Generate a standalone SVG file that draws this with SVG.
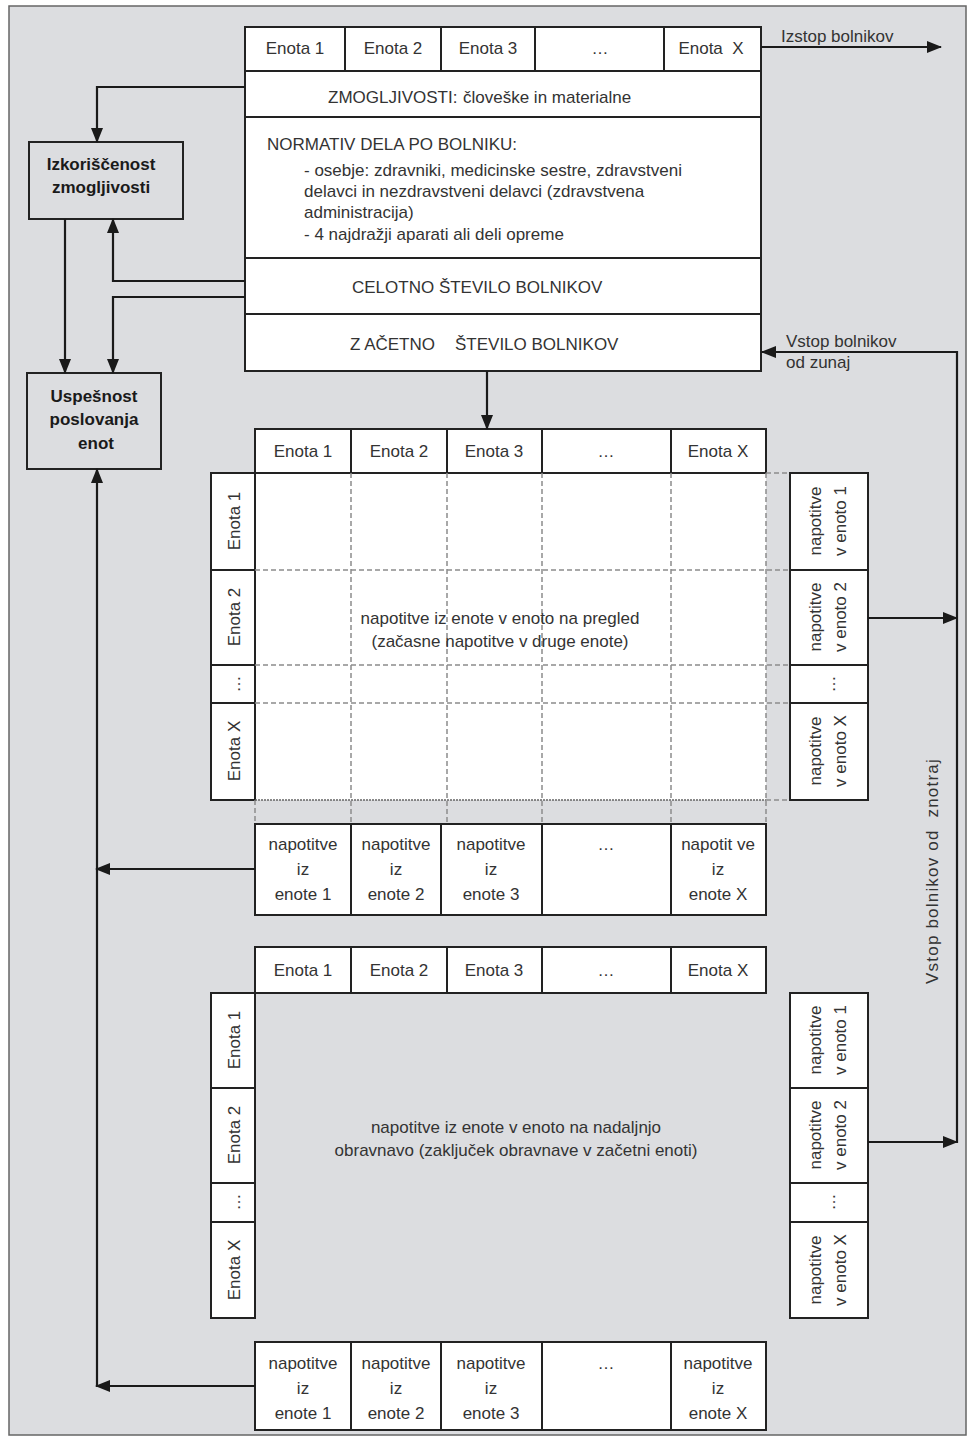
<svg xmlns="http://www.w3.org/2000/svg" width="968" height="1438" viewBox="0 0 968 1438">
<defs>
<marker id="ah" markerUnits="userSpaceOnUse" markerWidth="15" markerHeight="12" refX="14" refY="6" orient="auto" viewBox="0 0 15 12"><path d="M0,0 L15,6 L0,12 z" fill="#1a1a1a"/></marker>
</defs>
<style>
.t{font-family:"Liberation Sans",Arial,sans-serif;font-size:17px;fill:#333;}
.c{text-anchor:middle}
.b{font-weight:bold;fill:#1a1a1a}
.pre{white-space:pre}
.cell{fill:#fff;stroke:#222;stroke-width:2}
.box{fill:#dcdde0;stroke:#222;stroke-width:2}
.dash{stroke:#8c8c8c;stroke-width:1.5;stroke-dasharray:5 3;fill:none}
.dot{stroke:#666;stroke-width:1.5;stroke-dasharray:2 1;fill:none}
.conn{fill:none;stroke:#1a1a1a;stroke-width:2.2}
</style>
<rect x="9" y="6" width="957" height="1429" fill="#dcdde0" stroke="#666" stroke-width="1.5"/>

<g id="capacity-table">
<rect class="cell" x="245" y="27" width="100" height="44"/>
<rect class="cell" x="345" y="27" width="96" height="44"/>
<rect class="cell" x="441" y="27" width="94" height="44"/>
<rect class="cell" x="535" y="27" width="129" height="44"/>
<rect class="cell" x="664" y="27" width="97" height="44"/>
<rect class="cell" x="245" y="71" width="516" height="46"/>
<rect class="cell" x="245" y="117" width="516" height="141"/>
<rect class="cell" x="245" y="258" width="516" height="56"/>
<rect class="cell" x="245" y="314" width="516" height="57"/>
<text class="t c" x="295" y="54">Enota 1</text>
<text class="t c" x="393" y="54">Enota 2</text>
<text class="t c" x="488" y="54">Enota 3</text>
<text class="t c" x="600" y="54">…</text>
<text class="t c pre" x="711" y="54">Enota  X</text>
<text class="t" x="328" y="103">ZMOGLJIVOSTI:</text>
<text class="t" x="463" y="103">človeške in materialne</text>
<text class="t" x="267" y="150">NORMATIV DELA PO BOLNIKU:</text>
<text class="t" x="304" y="176">- osebje: zdravniki, medicinske sestre, zdravstveni</text>
<text class="t" x="304" y="197">delavci in nezdravstveni delavci (zdravstvena</text>
<text class="t" x="304" y="218">administracija)</text>
<text class="t" x="304" y="240">- 4 najdražji aparati ali deli opreme</text>
<text class="t" x="352" y="293">CELOTNO ŠTEVILO BOLNIKOV</text>
<text class="t" x="350" y="350">Z AČETNO</text>
<text class="t" x="455" y="350">ŠTEVILO BOLNIKOV</text>
</g>

<g id="izkoriscenost">
<rect class="box" x="29" y="142" width="154" height="77"/>
<text class="t c b" x="101" y="170">Izkoriščenost</text>
<text class="t c b" x="101" y="193">zmogljivosti</text>
</g>

<g id="uspesnost">
<rect class="box" x="27" y="373" width="134" height="96"/>
<text class="t c b" x="94" y="402">Uspešnost</text>
<text class="t c b" x="94" y="425">poslovanja</text>
<text class="t c b" x="96" y="449">enot</text>
</g>

<g id="matrix-pregled">
<rect x="255" y="473" width="511" height="327" fill="#fff"/>
<rect class="cell" x="255" y="429" width="96" height="44"/>
<rect class="cell" x="351" y="429" width="96" height="44"/>
<rect class="cell" x="447" y="429" width="95" height="44"/>
<rect class="cell" x="542" y="429" width="129" height="44"/>
<rect class="cell" x="671" y="429" width="95" height="44"/>
<text class="t c" x="303" y="457">Enota 1</text>
<text class="t c" x="399" y="457">Enota 2</text>
<text class="t c" x="494" y="457">Enota 3</text>
<text class="t c" x="606" y="457">…</text>
<text class="t c" x="718" y="457">Enota X</text>
<rect class="cell" x="211" y="473" width="44" height="97"/>
<rect class="cell" x="211" y="570" width="44" height="95"/>
<rect class="cell" x="211" y="665" width="44" height="38"/>
<rect class="cell" x="211" y="703" width="44" height="97"/>
<text class="t c" transform="translate(234,521) rotate(-90)" y="6">Enota 1</text>
<text class="t c" transform="translate(234,617) rotate(-90)" y="6">Enota 2</text>
<text class="t c" transform="translate(234,684) rotate(-90)" y="6">…</text>
<text class="t c" transform="translate(234,751) rotate(-90)" y="6">Enota X</text>
<rect class="cell" x="790" y="473" width="78" height="97"/>
<rect class="cell" x="790" y="570" width="78" height="95"/>
<rect class="cell" x="790" y="665" width="78" height="38"/>
<rect class="cell" x="790" y="703" width="78" height="97"/>
<g class="t c" transform="translate(829,521) rotate(-90)"><text y="-8">napotitve</text><text y="17">v enoto 1</text></g>
<g class="t c" transform="translate(829,617) rotate(-90)"><text y="-8">napotitve</text><text y="17">v enoto 2</text></g>
<text class="t c" transform="translate(829,684) rotate(-90)" y="6">…</text>
<g class="t c" transform="translate(829,751) rotate(-90)"><text y="-8">napotitve</text><text y="17">v enoto X</text></g>
<path class="dash" d="M351,473V824M447,473V824M542,473V824M671,473V824M766,473V824M255,800V824M255,570H790M255,665H790M255,703H790M766,473H790M766,800H790"/>
<path class="dot" d="M255,800H766"/>
<text class="t c" x="500" y="624">napotitve iz enote v enoto na pregled</text>
<text class="t c" x="500" y="647">(začasne napotitve v druge enote)</text>
</g>

<g id="napotitve-iz-1">
<rect class="cell" x="255" y="824" width="96" height="91"/>
<rect class="cell" x="351" y="824" width="90" height="91"/>
<rect class="cell" x="441" y="824" width="101" height="91"/>
<rect class="cell" x="542" y="824" width="129" height="91"/>
<rect class="cell" x="671" y="824" width="95" height="91"/>
<g class="t c"><text x="303" y="850">napotitve</text><text x="303" y="875">iz</text><text x="303" y="900">enote 1</text></g>
<g class="t c"><text x="396" y="850">napotitve</text><text x="396" y="875">iz</text><text x="396" y="900">enote 2</text></g>
<g class="t c"><text x="491" y="850">napotitve</text><text x="491" y="875">iz</text><text x="491" y="900">enote 3</text></g>
<text class="t c" x="606" y="850">…</text>
<g class="t c"><text x="718" y="850">napotit ve</text><text x="718" y="875">iz</text><text x="718" y="900">enote X</text></g>
</g>

<g id="matrix-obravnava">
<rect class="cell" x="255" y="947" width="96" height="46"/>
<rect class="cell" x="351" y="947" width="96" height="46"/>
<rect class="cell" x="447" y="947" width="95" height="46"/>
<rect class="cell" x="542" y="947" width="129" height="46"/>
<rect class="cell" x="671" y="947" width="95" height="46"/>
<text class="t c" x="303" y="976">Enota 1</text>
<text class="t c" x="399" y="976">Enota 2</text>
<text class="t c" x="494" y="976">Enota 3</text>
<text class="t c" x="606" y="976">…</text>
<text class="t c" x="718" y="976">Enota X</text>
<rect class="cell" x="211" y="993" width="44" height="95"/>
<rect class="cell" x="211" y="1088" width="44" height="95"/>
<rect class="cell" x="211" y="1183" width="44" height="39"/>
<rect class="cell" x="211" y="1222" width="44" height="96"/>
<text class="t c" transform="translate(234,1040) rotate(-90)" y="6">Enota 1</text>
<text class="t c" transform="translate(234,1135) rotate(-90)" y="6">Enota 2</text>
<text class="t c" transform="translate(234,1202) rotate(-90)" y="6">…</text>
<text class="t c" transform="translate(234,1270) rotate(-90)" y="6">Enota X</text>
<rect class="cell" x="790" y="993" width="78" height="95"/>
<rect class="cell" x="790" y="1088" width="78" height="95"/>
<rect class="cell" x="790" y="1183" width="78" height="39"/>
<rect class="cell" x="790" y="1222" width="78" height="96"/>
<g class="t c" transform="translate(829,1040) rotate(-90)"><text y="-8">napotitve</text><text y="17">v enoto 1</text></g>
<g class="t c" transform="translate(829,1135) rotate(-90)"><text y="-8">napotitve</text><text y="17">v enoto 2</text></g>
<text class="t c" transform="translate(829,1202) rotate(-90)" y="6">…</text>
<g class="t c" transform="translate(829,1270) rotate(-90)"><text y="-8">napotitve</text><text y="17">v enoto X</text></g>
<text class="t c" x="516" y="1133">napotitve iz enote v enoto na nadaljnjo</text>
<text class="t c" x="516" y="1156">obravnavo (zaključek obravnave v začetni enoti)</text>
</g>

<g id="napotitve-iz-2">
<rect class="cell" x="255" y="1342" width="96" height="88"/>
<rect class="cell" x="351" y="1342" width="90" height="88"/>
<rect class="cell" x="441" y="1342" width="101" height="88"/>
<rect class="cell" x="542" y="1342" width="129" height="88"/>
<rect class="cell" x="671" y="1342" width="95" height="88"/>
<g class="t c"><text x="303" y="1369">napotitve</text><text x="303" y="1394">iz</text><text x="303" y="1419">enote 1</text></g>
<g class="t c"><text x="396" y="1369">napotitve</text><text x="396" y="1394">iz</text><text x="396" y="1419">enote 2</text></g>
<g class="t c"><text x="491" y="1369">napotitve</text><text x="491" y="1394">iz</text><text x="491" y="1419">enote 3</text></g>
<text class="t c" x="606" y="1369">…</text>
<g class="t c"><text x="718" y="1369">napotitve</text><text x="718" y="1394">iz</text><text x="718" y="1419">enote X</text></g>
</g>

<g id="connectors">
<path class="conn" d="M245,87H97V142" marker-end="url(#ah)"/>
<path class="conn" d="M245,281H113V219" marker-end="url(#ah)"/>
<path class="conn" d="M245,297H113V373" marker-end="url(#ah)"/>
<path class="conn" d="M65,219V373" marker-end="url(#ah)"/>
<path class="conn" d="M487,371V429" marker-end="url(#ah)"/>
<path class="conn" d="M761,47H941" marker-end="url(#ah)"/>
<path class="conn" d="M957,1143V352H762" marker-end="url(#ah)"/>
<path class="conn" d="M868,618H957" marker-end="url(#ah)"/>
<path class="conn" d="M868,1142H957" marker-end="url(#ah)"/>
<path class="conn" d="M255,869H96" marker-end="url(#ah)"/>
<path class="conn" d="M255,1386H96" marker-end="url(#ah)"/>
<path class="conn" d="M97,1387V469" marker-end="url(#ah)"/>
</g>

<g id="labels">
<text class="t" x="781" y="42">Izstop bolnikov</text>
<text class="t" x="786" y="347">Vstop bolnikov</text>
<text class="t" x="786" y="368">od zunaj</text>
<text class="t c pre" transform="translate(932,871) rotate(-90)" y="6" letter-spacing="1.2">Vstop bolnikov od  znotraj</text>
</g>
</svg>
